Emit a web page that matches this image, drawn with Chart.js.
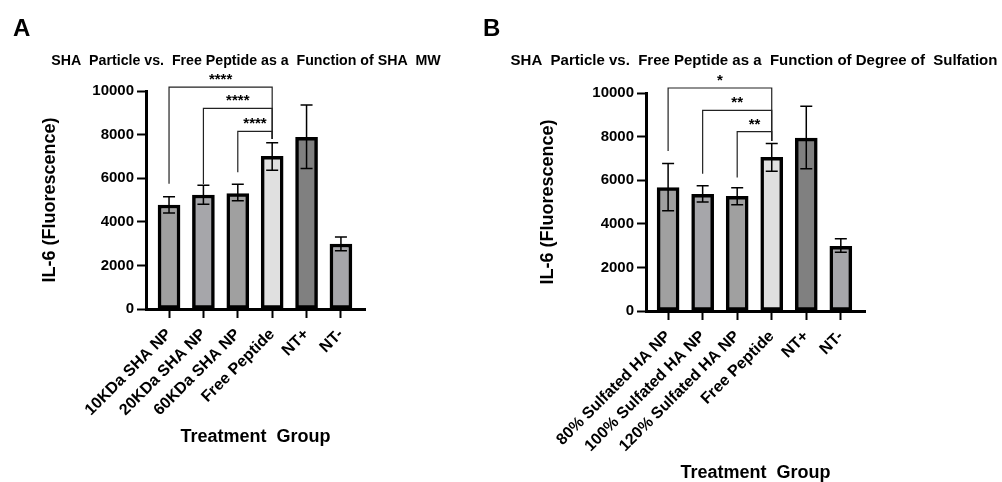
<!DOCTYPE html>
<html>
<head>
<meta charset="utf-8">
<script src="https://cdn.jsdelivr.net/npm/chart.js@4.4.1/dist/chart.umd.min.js"></script>
<style>
  html, body { margin: 0; padding: 0; background: #fff; }
  #wrap { position: relative; width: 1002px; height: 482px; }
  canvas { position: absolute; top: 0; }
  #chartA { left: 0; }
  #chartB { left: 480px; }
</style>
</head>
<body>
<div id="wrap">
  <canvas id="chartA" width="480" height="482"></canvas>
  <canvas id="chartB" width="522" height="482"></canvas>
</div>
<script>
// Panel A: peso molecular del SHA
const gruposA = ['10KDa SHA NP', '20KDa SHA NP', '60KDa SHA NP', 'Free Peptide', 'NT+', 'NT-'];
const mediasA = [4770, 5230, 5300, 7000, 7880, 2980];
const errBajoA = [4400, 4800, 4960, 6370, 6450, 2670];
const errAltoA = [5150, 5680, 5720, 7630, 9360, 3300];
const paresA = [[0, 3], [1, 3], [2, 3]];
const nivelA = [10180, 9200, 8150];
const pataIzqA = [5750, 5730, 6270];
const pataDerA = 7800;
const signosA = ['****', '****', '****'];

// Panel B: grado de sulfatacion
const gruposB = ['80% Sulfated HA NP', '100% Sulfated HA NP', '120% Sulfated HA NP', 'Free Peptide', 'NT+', 'NT-'];
const mediasB = [5660, 5350, 5260, 7050, 7930, 2970];
const errBajoB = [4600, 5000, 4870, 6410, 6520, 2690];
const errAltoB = [6770, 5740, 5650, 7680, 9390, 3310];
const paresB = [[0, 3], [1, 3], [2, 3]];
const nivelB = [10230, 9200, 8230];
const pataIzqB = [7340, 6300, 6120];
const pataDerB = 7800;
const signosB = ['*', '**', '**'];

const ticksY = [0, 2000, 4000, 6000, 8000, 10000];
const coloresBarra = ['#a0a0a0', '#a6a6aa', '#a0a0a0', '#e0e0e0', '#808080', '#a6a6aa'];

Chart.defaults.font.family = "'Liberation Sans', Arial, sans-serif";
Chart.defaults.font.weight = 'bold';
Chart.defaults.color = '#000';

// barras de error, corchetes de significancia, letra y titulo
const extras = {
  id: 'extras',
  afterDatasetsDraw(chart, args, o) {
    const ctx = chart.ctx, x = chart.scales.x, y = chart.scales.y;
    ctx.save();
    ctx.strokeStyle = '#000';
    ctx.lineWidth = 1.5;
    o.bajo.forEach((b, i) => {
      const px = x.getPixelForValue(i);
      const y1 = y.getPixelForValue(b), y2 = y.getPixelForValue(o.alto[i]);
      ctx.beginPath();
      ctx.moveTo(px, y1); ctx.lineTo(px, y2);
      ctx.moveTo(px - 6, y1); ctx.lineTo(px + 6, y1);
      ctx.moveTo(px - 6, y2); ctx.lineTo(px + 6, y2);
      ctx.stroke();
    });
    ctx.strokeStyle = '#222';
    ctx.lineWidth = 1.2;
    ctx.fillStyle = '#000';
    ctx.font = "bold 15px 'Liberation Sans', Arial, sans-serif";
    ctx.textAlign = 'center';
    ctx.textBaseline = 'alphabetic';
    o.pares.forEach((p, i) => {
      const xa = x.getPixelForValue(p[0]), xb = x.getPixelForValue(p[1]);
      const yl = y.getPixelForValue(o.nivel[i]);
      ctx.beginPath();
      ctx.moveTo(xa, y.getPixelForValue(o.pataIzq[i]));
      ctx.lineTo(xa, yl);
      ctx.lineTo(xb, yl);
      ctx.lineTo(xb, y.getPixelForValue(o.pataDer));
      ctx.stroke();
      ctx.fillText(o.signos[i], (xa + xb) / 2, yl - 3);
    });
    ctx.restore();
  },
  afterDraw(chart, args, o) {
    const ctx = chart.ctx;
    ctx.save();
    ctx.fillStyle = '#000';
    ctx.textBaseline = 'alphabetic';
    ctx.font = "bold 24px 'Liberation Sans', Arial, sans-serif";
    ctx.textAlign = 'left';
    ctx.fillText(o.letra, o.letraX, 36);
    ctx.font = 'bold ' + o.tituloTam + "px 'Liberation Sans', Arial, sans-serif";
    ctx.textAlign = 'center';
    ctx.fillText(o.titulo, o.tituloX, 65);
    ctx.restore();
  }
};

function crearPanel(id, grupos, medias, bajo, alto, pares, nivel, pataIzq, pataDer, signos, p) {
  return new Chart(document.getElementById(id), {
    type: 'bar',
    data: {
      datasets: [{
        data: medias.map((v, i) => ({ x: i, y: v })),
        backgroundColor: coloresBarra,
        borderColor: '#000',
        borderWidth: 3.5,
        borderSkipped: false,
        barThickness: 22
      }]
    },
    options: {
      responsive: false,
      animation: false,
      layout: { padding: p.padding },
      plugins: {
        legend: { display: false },
        tooltip: { enabled: false },
        extras: {
          bajo, alto, pares, nivel, pataIzq, pataDer, signos,
          letra: p.letra, letraX: p.letraX, titulo: p.titulo, tituloX: p.tituloX, tituloTam: p.tituloTam
        }
      },
      scales: {
        x: {
          type: 'linear',
          min: p.xMin,
          max: p.xMax,
          offset: false,
          afterBuildTicks: s => { s.ticks = grupos.map((g, i) => ({ value: i })); },
          afterFit: s => { s.height = p.altoX; },
          ticks: {
            autoSkip: false,
            maxRotation: 45,
            minRotation: 45,
            padding: 7,
            font: { size: 16, weight: 'bold' },
            callback: v => grupos[v]
          },
          grid: { offset: false, drawOnChartArea: false, tickLength: 9, tickWidth: 2, tickColor: '#000' },
          border: { color: '#000', width: 3 },
          title: {
            display: true,
            text: 'Treatment  Group',
            font: { size: 18, weight: 'bold', lineHeight: 1 },
            padding: { top: 0, bottom: 0 }
          }
        },
        y: {
          min: 0,
          max: 10000,
          afterBuildTicks: s => { s.ticks = ticksY.map(v => ({ value: v })); },
          afterFit: s => { s.width = p.anchoY; },
          ticks: { padding: 3, font: { size: 15, weight: 'bold' }, callback: v => String(v) },
          grid: { drawOnChartArea: false, tickLength: 9, tickWidth: 2, tickColor: '#000' },
          border: { color: '#000', width: 3 },
          title: {
            display: true,
            text: 'IL-6 (Fluorescence)',
            font: { size: 18, weight: 'bold', lineHeight: 1 },
            padding: { top: p.padTituloY, bottom: 0 }
          }
        }
      }
    },
    plugins: [extras]
  });
}

crearPanel('chartA', gruposA, mediasA, errBajoA, errAltoA, paresA, nivelA, pataIzqA, pataDerA, signosA, {
  padding: { left: 0, top: 91, right: 115, bottom: 36 },
  xMin: -0.67, xMax: 5.7, altoX: 137, anchoY: 146, padTituloY: 41,
  letra: 'A', letraX: 13, tituloTam: 14.2, tituloX: 246,
  titulo: 'SHA  Particle vs.  Free Peptide as a  Function of SHA  MW'
});

crearPanel('chartB', gruposB, mediasB, errBajoB, errAltoB, paresB, nivelB, pataIzqB, pataDerB, signosB, {
  padding: { left: 0, top: 93, right: 137, bottom: 0 },
  xMin: -0.64, xMax: 5.7, altoX: 171, anchoY: 166, padTituloY: 59,
  letra: 'B', letraX: 3, tituloTam: 15, tituloX: 274,
  titulo: 'SHA  Particle vs.  Free Peptide as a  Function of Degree of  Sulfation'
});
</script>
</body>
</html>
